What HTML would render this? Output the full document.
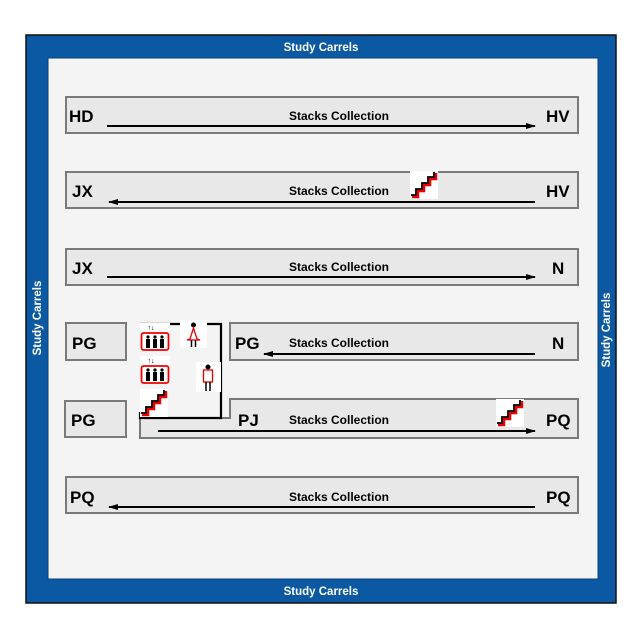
<!DOCTYPE html>
<html><head><meta charset="utf-8"><style>
html,body{margin:0;padding:0;background:#fff;}
svg{display:block;}
text{font-family:"Liberation Sans",Arial,sans-serif;font-weight:bold;}
</style></head><body>
<svg width="640" height="640" viewBox="0 0 640 640" xmlns="http://www.w3.org/2000/svg">
<defs>
<marker id="ah" markerWidth="10" markerHeight="6" refX="9" refY="3" orient="auto" markerUnits="userSpaceOnUse">
<path d="M0,0 L10,3 L0,6 Z" fill="#000"/></marker>
<g id="stairs">
<rect x="0" y="0" width="28" height="28" fill="#fff"/>
<path d="M2,26 L8,26 L8,20 L14,20 L14,14 L20,14 L20,8 L26,8 L26,2" fill="none" stroke="#e00" stroke-width="2.5"/>
<path d="M1,24 L6,24 L6,18 L12,18 L12,12 L18,12 L18,6 L24,6 L24,1" fill="none" stroke="#000" stroke-width="1.8"/>
</g>
<g id="elev">
<rect x="0" y="0" width="30" height="28" fill="#fff"/>
<text x="11" y="7" font-size="7" text-anchor="middle" font-weight="bold">↑↓</text>
<rect x="1.5" y="10" width="27" height="17" rx="2" fill="#fff" stroke="#e00" stroke-width="1.8"/>
<g fill="#000">
<circle cx="8" cy="14" r="1.6"/><circle cx="15" cy="14" r="1.6"/><circle cx="22" cy="14" r="1.6"/>
<rect x="6" y="16" width="4" height="9"/><rect x="13" y="16" width="4" height="9"/><rect x="20" y="16" width="4" height="9"/>
</g>
</g>
</defs>
<rect width="640" height="640" fill="#fff"/>
<rect x="26" y="35" width="590" height="568" fill="#0b59a3" stroke="#111" stroke-width="1.5"/>
<rect x="48" y="58" width="550" height="521" fill="#f4f4f4" stroke="#0a3f75" stroke-width="1"/>
<g fill="#fff" font-size="11.5" text-anchor="middle">
<text x="321" y="51">Study Carrels</text>
<text x="321" y="595">Study Carrels</text>
<text transform="translate(41,318) rotate(-90)">Study Carrels</text>
<text transform="translate(610,330) rotate(-90)">Study Carrels</text>
</g>
<g fill="#e8e8e8" stroke="#7a7a7a" stroke-width="2">
<rect x="66" y="97" width="512" height="36"/>
<rect x="66" y="172" width="512" height="36"/>
<rect x="66" y="249" width="512" height="36"/>
<rect x="66" y="323" width="60" height="37"/>
<rect x="230" y="323" width="348" height="37"/>
<rect x="65" y="401" width="61" height="36"/>
<path d="M140,418 L230,418 L230,399 L578,399 L578,438 L140,438 Z"/>
<rect x="66" y="477" width="512" height="36"/>
</g>
<g stroke="#000" stroke-width="2" fill="none">
<line x1="107" y1="126" x2="535" y2="126" marker-end="url(#ah)"/>
<line x1="535" y1="202" x2="109" y2="202" marker-end="url(#ah)"/>
<line x1="107" y1="277" x2="535" y2="277" marker-end="url(#ah)"/>
<line x1="535" y1="354" x2="264" y2="354" marker-end="url(#ah)"/>
<line x1="158" y1="431" x2="535" y2="431" marker-end="url(#ah)"/>
<line x1="535" y1="507" x2="109" y2="507" marker-end="url(#ah)"/>
</g>
<g font-size="12" text-anchor="middle" fill="#000">
<text x="339" y="120">Stacks Collection</text>
<text x="339" y="195">Stacks Collection</text>
<text x="339" y="271">Stacks Collection</text>
<text x="339" y="347">Stacks Collection</text>
<text x="339" y="424">Stacks Collection</text>
<text x="339" y="501">Stacks Collection</text>
</g>
<g font-size="17" fill="#000">
<text x="69" y="122">HD</text><text x="546" y="122">HV</text>
<text x="72" y="197">JX</text><text x="546" y="197">HV</text>
<text x="72" y="274">JX</text><text x="552" y="274">N</text>
<text x="72" y="349">PG</text><text x="235" y="349">PG</text><text x="552" y="349">N</text>
<text x="71" y="426">PG</text><text x="238" y="426">PJ</text><text x="546" y="426">PQ</text>
<text x="70" y="503">PQ</text><text x="546" y="503">PQ</text>
</g>
<use href="#stairs" x="410" y="171"/>
<use href="#stairs" x="496" y="399"/>
<path d="M140,324 L180,324 M207,324 L221,324 L221,418 L140,418 L140,412" stroke="#000" stroke-width="2.2" fill="none"/>
<use href="#elev" x="140" y="323"/>
<use href="#elev" x="140" y="356"/>
<use href="#stairs" x="140" y="389"/>
<rect x="180" y="320" width="27" height="28" fill="#fff"/>
<circle cx="193.5" cy="325" r="2.5" fill="#000"/>
<path d="M193.5,328 L190,339 L187,340 L200,340 L197,339 Z" fill="#fff" stroke="#e00" stroke-width="1.3"/>
<path d="M191.5,340 L191.5,347 M195.5,340 L195.5,347" stroke="#000" stroke-width="1.5"/>
<rect x="196" y="362" width="25" height="30" fill="#fff"/>
<circle cx="208" cy="367" r="2.5" fill="#000"/>
<rect x="203.5" y="370" width="9" height="12" fill="#fff" stroke="#e00" stroke-width="1.3"/>
<path d="M206,382 L206,391 M210,382 L210,391" stroke="#000" stroke-width="1.5"/>
</svg>
</body></html>
